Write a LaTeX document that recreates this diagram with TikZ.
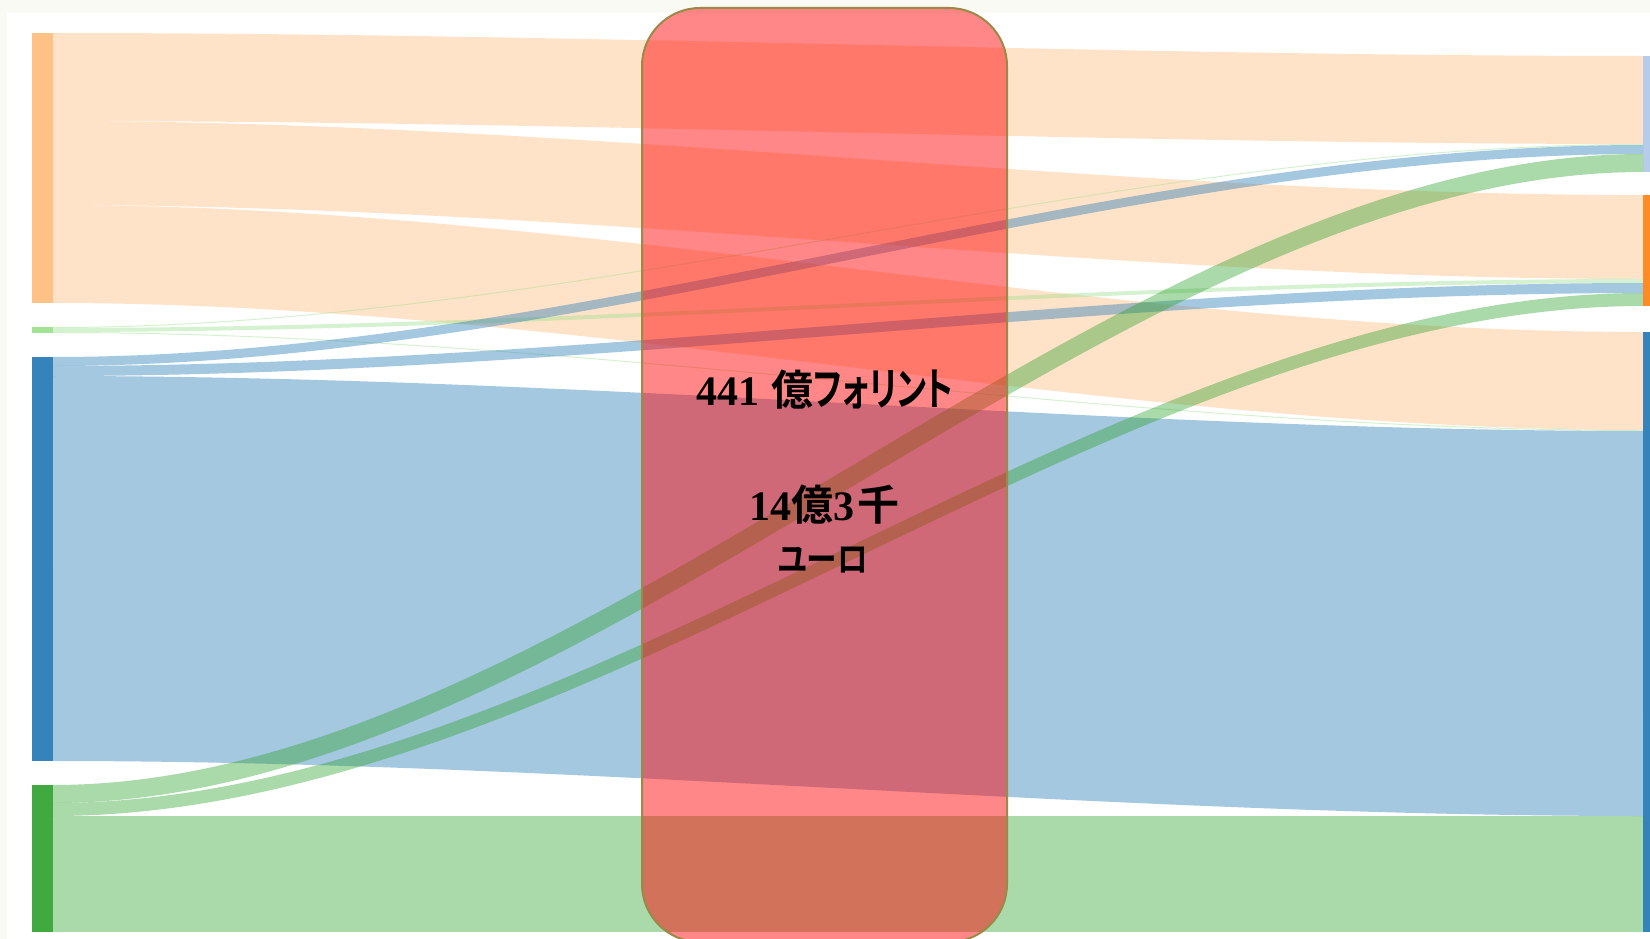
\documentclass[tikz,border=0pt]{standalone}
\usepackage{fontspec}
\setmainfont{Liberation Serif}
\newfontfamily\jpfont{Noto Sans CJK JP}[UprightFont={* Bold},BoldFont={* Bold}]
\newfontfamily\kanafont{Noto Sans CJK JP}[UprightFont={* Bold},BoldFont={* Bold},FakeStretch=0.72,RawFeature={+palt}]
\newfontfamily\unitfont{Noto Sans CJK JP}[UprightFont={* Bold},BoldFont={* Bold},FakeStretch=0.85,RawFeature={+palt}]
\usetikzlibrary{positioning}

\definecolor{lorange}{HTML}{FFBB78}
\definecolor{lgreen}{HTML}{98DF8A}
\definecolor{dblue}{HTML}{1F77B4}
\definecolor{dgreen}{HTML}{2CA02C}
\definecolor{lav}{HTML}{AEC7E8}
\definecolor{dorange}{HTML}{FF7F0E}
\definecolor{boxred}{HTML}{FF0000}
\definecolor{boxline}{HTML}{9A8A48}
\definecolor{offwhite}{HTML}{FAFAF5}

\tikzset{
  bar/.style={fill=#1, fill opacity=0.9, minimum width=21pt, inner sep=0pt, outer sep=0pt, anchor=north west},
  flow/.style={draw=#1, draw opacity=0.4, line cap=butt},
  band/.style={draw=boxline, line width=2pt, fill=boxred, fill opacity=0.47, rounded corners=58pt, minimum width=365pt, minimum height=934pt, inner sep=0pt, anchor=north},
  amount/.style={font=\fontsize{42}{48}\selectfont\bfseries, inner sep=0pt, anchor=base},
  unit/.style={font=\fontsize{36}{40}\selectfont\unitfont, inner sep=0pt, anchor=base}
}

\begin{document}
\begin{tikzpicture}[x=1pt,y=-1pt]
\useasboundingbox (0,0) rectangle (1650,939);
\clip (0,0) rectangle (1650,939);
\fill[offwhite] (0,0) rectangle (1650,939);
\fill[white] (7,13) rectangle (1650,939);

\node[bar=lorange, minimum height=270pt] (s1) at (32,33) {};
\node[bar=lgreen, minimum height=6pt] (s2) at (32,327) {};
\node[bar=dblue, minimum height=404pt] (s3) at (32,357) {};
\node[bar=dgreen, minimum height=147pt] (s4) at (32,785) {};
\node[bar=lav, minimum height=116pt] (t1) at (1643,56) {};
\node[bar=dorange, minimum height=111pt] (t2) at (1643,195) {};
\node[bar=dblue, minimum height=600pt] (t3) at (1643,332) {};

\draw[flow=lorange, line width=88pt] ([yshift=-44pt]s1.north east) .. controls +(530,0) and +(-530,0) .. ([yshift=-44pt]t1.north west);
\draw[flow=lorange, line width=84pt] ([yshift=-130pt]s1.north east) .. controls +(530,0) and +(-530,0) .. ([yshift=-42pt]t2.north west);
\draw[flow=lorange, line width=98pt] ([yshift=-221pt]s1.north east) .. controls +(530,0) and +(-530,0) .. ([yshift=-49pt]t3.north west);
\draw[flow=lgreen, line width=1pt] ([yshift=-0.5pt]s2.north east) .. controls +(530,0) and +(-530,0) .. ([yshift=-88.5pt]t1.north west);
\draw[flow=lgreen, line width=4pt] ([yshift=-3pt]s2.north east) .. controls +(530,0) and +(-530,0) .. ([yshift=-86pt]t2.north west);
\draw[flow=lgreen, line width=1pt] ([yshift=-5.5pt]s2.north east) .. controls +(530,0) and +(-530,0) .. ([yshift=-98.5pt]t3.north west);
\draw[flow=dblue, line width=9pt] ([yshift=-4.5pt]s3.north east) .. controls +(530,0) and +(-530,0) .. ([yshift=-93.5pt]t1.north west);
\draw[flow=dblue, line width=10pt] ([yshift=-14pt]s3.north east) .. controls +(530,0) and +(-530,0) .. ([yshift=-93pt]t2.north west);
\draw[flow=dblue, line width=385pt] ([yshift=-211.5pt]s3.north east) .. controls +(530,0) and +(-530,0) .. ([yshift=-291.5pt]t3.north west);
\draw[flow=dgreen, line width=18pt] ([yshift=-9pt]s4.north east) .. controls +(530,0) and +(-530,0) .. ([yshift=-107pt]t1.north west);
\draw[flow=dgreen, line width=13pt] ([yshift=-24.5pt]s4.north east) .. controls +(530,0) and +(-530,0) .. ([yshift=-104.5pt]t2.north west);
\draw[flow=dgreen, line width=116pt] ([yshift=-89pt]s4.north east) .. controls +(530,0) and +(-530,0) .. ([yshift=-542pt]t3.north west);

\node[band] (box) at (824.5,7) {};
\node[amount] (huf) at (825,405) {441\hspace{12pt}{\jpfont 億}{\fontsize{45}{48}\selectfont\kanafont フォリント}};
\node[amount] (eur) at (824,520) {14{\jpfont 億}3\hspace{3pt}{\jpfont 千}};
\node[unit] (eurunit) at (823,572) {ユーロ};
\end{tikzpicture}
\end{document}
